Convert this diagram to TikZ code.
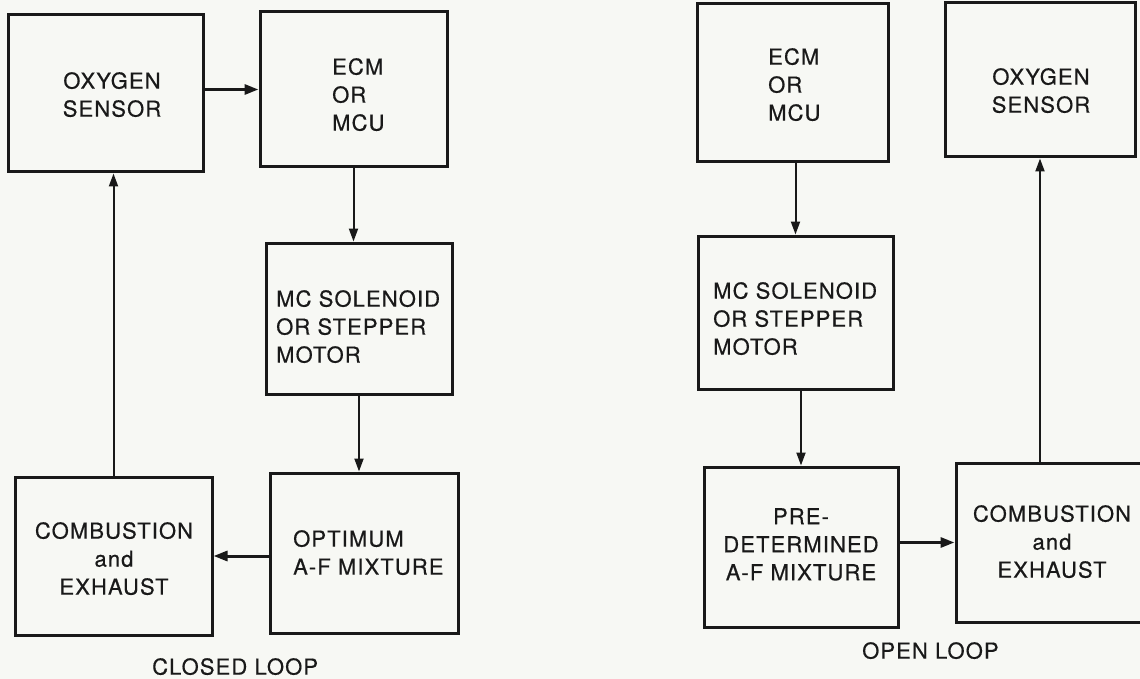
\documentclass[tikz,border=0pt]{standalone}
\usepackage{fontspec}
\newfontfamily\diafont[LetterSpace=5,FakeBold=0.5]{TeX Gyre Heros}
\usetikzlibrary{arrows.meta}
\definecolor{paper}{RGB}{247,248,244}
\definecolor{ink}{RGB}{25,25,25}
\begin{document}
\begin{tikzpicture}[x=1pt,y=-1pt,
  box/.style={draw=ink, line width=3pt, rectangle, inner sep=0pt},
  lbl/.style={inner sep=0pt, text=ink, font=\diafont\fontsize{22}{28}\selectfont},
  vline/.style={draw=ink, line width=2pt, -{Triangle[length=13pt,width=9pt]}},
  hline/.style={draw=ink, line width=3pt, -{Triangle[length=14pt,width=10pt]}}]
\fill[paper] (0,0) rectangle (1140,679);
\clip (0,0) rectangle (1140,679);
\useasboundingbox (0,0) rectangle (1140,679);
% closed loop boxes
\node[box, minimum width=195pt, minimum height=157pt] (LO) at (105.5,93.5) {};
\node[box, minimum width=187pt, minimum height=155pt] (LE) at (353.5,89.5) {};
\node[box, minimum width=186pt, minimum height=151pt] (LM) at (359,318.5) {};
\node[box, minimum width=188pt, minimum height=160pt] (LP) at (364,553) {};
\node[box, minimum width=197pt, minimum height=158pt] (LC) at (113.5,556) {};
% open loop boxes
\node[box, minimum width=191pt, minimum height=158pt] (RE) at (792.5,83) {};
\node[box, minimum width=190pt, minimum height=154pt] (RO) at (1040,80) {};
\node[box, minimum width=195pt, minimum height=153pt] (RM) at (795.5,312.5) {};
\node[box, minimum width=194pt, minimum height=160pt] (RP) at (801,547) {};
\node[box, minimum width=204pt, minimum height=159pt] (RC) at (1058,542.5) {};
% texts
\node[lbl, align=center, anchor=north] (tLO) at (112,72) {OXYGEN\\SENSOR};
\node[lbl, align=left, anchor=north west] (tLE) at (332,58) {ECM\\OR\\MCU};
\node[lbl, align=left, anchor=north west] (tLM) at (276,290) {MC SOLENOID\\OR STEPPER\\MOTOR};
\node[lbl, align=left, anchor=north west] (tLP) at (293,530) {OPTIMUM\\A-F MIXTURE};
\node[lbl, align=center, anchor=north] (tLC) at (114,522) {COMBUSTION\\and\\EXHAUST};
\node[lbl, anchor=north west] (tCL) at (152,658) {CLOSED LOOP};
\node[lbl, align=left, anchor=north west] (tRE) at (768,48) {ECM\\OR\\MCU};
\node[lbl, align=center, anchor=north] (tRO) at (1041,68) {OXYGEN\\SENSOR};
\node[lbl, align=left, anchor=north west] (tRM) at (713,282) {MC SOLENOID\\OR STEPPER\\MOTOR};
\node[lbl, align=center, anchor=north] (tRP) at (801,508) {PRE-\\DETERMINED\\A-F MIXTURE};
\node[lbl, align=center, anchor=north] (tRC) at (1052,505) {COMBUSTION\\and\\EXHAUST};
\node[lbl, anchor=north west] (tOL) at (862,642) {OPEN LOOP};
% closed loop connectors
\draw[hline] (LO.east |- LE.west) -- (LE.west);
\draw[vline] (LE.south) -- (LE.south |- LM.north);
\draw[vline] (LM.south) -- (LM.south |- LP.north);
\draw[hline] (LP.west |- LC.east) -- (LC.east);
\draw[vline] (LC.north) -- (LC.north |- LO.south);
% open loop connectors
\draw[vline] (RM.north |- RE.south) -- (RM.north);
\draw[vline] (RP.north |- RM.south) -- (RP.north);
\draw[hline] (RP.east |- RC.west) -- (RC.west);
\draw[vline] (RO.south |- RC.north) -- (RO.south);
\end{tikzpicture}
\end{document}
